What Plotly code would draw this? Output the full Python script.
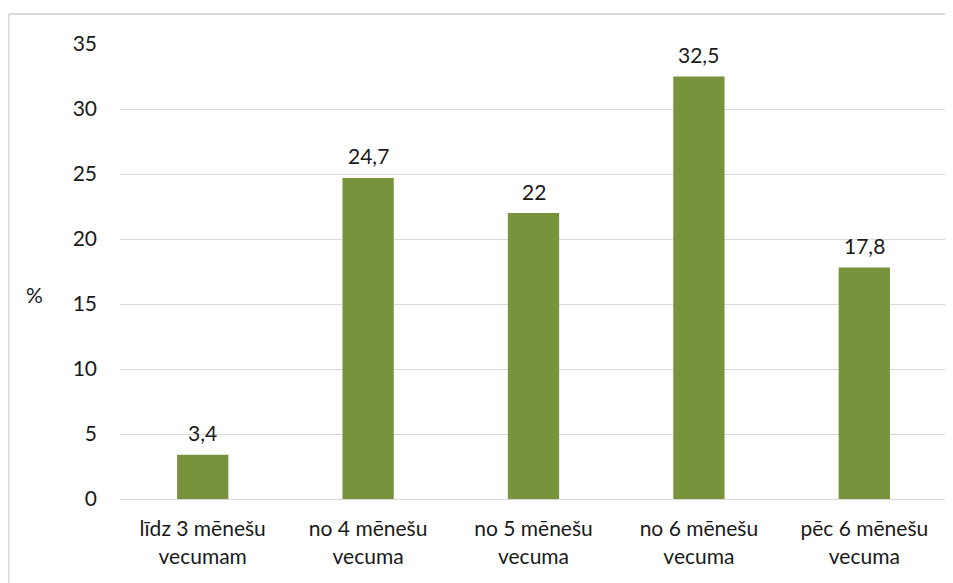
import plotly.graph_objects as go

kategorijas = [
    "līdz 3 mēnešu<br>vecumam",
    "no 4 mēnešu<br>vecuma",
    "no 5 mēnešu<br>vecuma",
    "no 6 mēnešu<br>vecuma",
    "pēc 6 mēnešu<br>vecuma",
]
vertibas = [3.4, 24.7, 22, 32.5, 17.8]
y_ticks = [0, 5, 10, 15, 20, 25, 30, 35]

ZALS = "#77933C"
PELEKS = "#D9D9D9"
FONTS = "Lato"


def fmt(v):
    return ("%g" % v).replace(".", ",")


fig = go.Figure()
fig.add_trace(go.Bar(
    x=kategorijas,
    y=vertibas,
    marker_color=ZALS,
    marker_line_width=0,
    hoverinfo="skip",
))

for k, v in zip(kategorijas, vertibas):
    fig.add_annotation(
        x=k, y=v, text=fmt(v), showarrow=False,
        yanchor="middle", yshift=22,
        font=dict(family=FONTS, size=21, color="#1a1a1a"),
    )

fig.add_annotation(
    text="%", xref="paper", yref="paper", x=-0.103, y=0.45,
    showarrow=False, xanchor="center", yanchor="middle",
    font=dict(family=FONTS, size=21, color="#1a1a1a"),
)

# ramis ap diagrammu (redzama tikai kreisā un augšējā mala)
fig.add_shape(type="line", xref="paper", yref="paper",
              x0=-0.1348, x1=-0.1348, y0=-0.25, y1=1.066,
              line=dict(color=PELEKS, width=2))
fig.add_shape(type="line", xref="paper", yref="paper",
              x0=-0.1348, x1=1.02, y0=1.066, y1=1.066,
              line=dict(color=PELEKS, width=2))

fig.update_layout(
    width=953, height=583,
    margin=dict(l=112, r=14, t=36, b=92),
    paper_bgcolor="white",
    plot_bgcolor="white",
    bargap=0.69,
    showlegend=False,
    font=dict(family=FONTS, size=21, color="#1a1a1a"),
    xaxis=dict(
        showgrid=False, showline=True, linecolor=PELEKS, linewidth=1,
        ticks="", tickfont=dict(size=21), ticklabelstandoff=11,
    ),
    yaxis=dict(
        range=[0, 35], tickvals=y_ticks, showgrid=True, gridcolor=PELEKS,
        gridwidth=1, zeroline=False, showline=False, ticks="",
        tickfont=dict(size=21), ticklabelstandoff=22,
    ),
)

fig.write_html("out.html")
